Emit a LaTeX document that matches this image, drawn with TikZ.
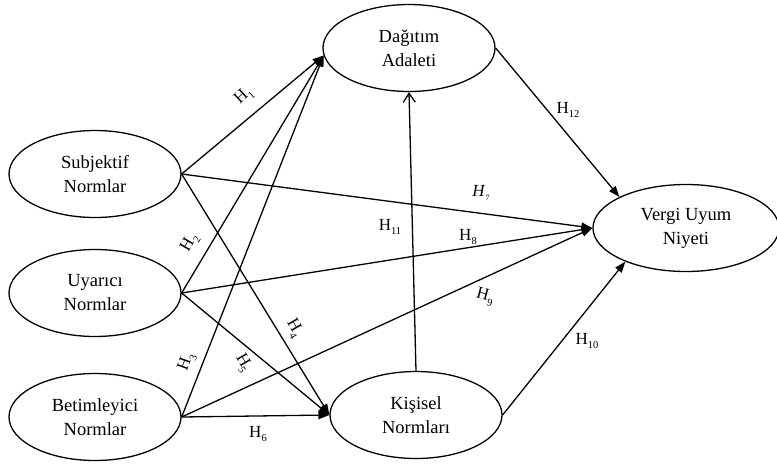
\documentclass[tikz,border=0pt]{standalone}
\usepackage{fontspec}
\setmainfont{Liberation Serif}
\usetikzlibrary{arrows.meta,shapes.geometric}

\newcommand{\hyp}[1]{H\raisebox{-0.6ex}{\fontsize{10.5}{10.5}\selectfont #1}}
\newcommand{\hypit}[1]{\textit{H}\raisebox{-0.6ex}{\fontsize{8}{8}\selectfont #1}}

\tikzset{
  construct/.style={draw,ellipse,line width=1.3pt,inner sep=0pt,
    minimum width=172pt,minimum height=87pt,align=center,
    font=\fontsize{18.5}{24}\selectfont},
  path/.style={line width=1.3pt,-{Triangle[length=11pt,width=8pt]}},
  openpath/.style={line width=1.3pt,-{Straight Barb[length=9pt,width=12pt]}},
  hlabel/.style={inner sep=0pt,font=\fontsize{17}{17}\selectfont}
}

\begin{document}
\begin{tikzpicture}[x=1pt,y=-1pt]

\useasboundingbox (0,0) rectangle (777,464);

% Constructs
\node[construct] (sub) at (95,174) {Subjektif\\Normlar};
\node[construct] (uya) at (95,293) {Uyarıcı\\Normlar};
\node[construct] (bet) at (95,417) {Betimleyici\\Normlar};
\node[construct] (dag) at (409,48) {Dağıtım\\Adaleti};
\node[construct] (kis) at (416,415) {Kişisel\\Normları};
\node[construct,minimum width=186pt] (ver) at (686,228) {Vergi Uyum\\Niyeti};

% Norms to distributive justice
\foreach \src in {sub,uya,bet}
    \draw[path] (\src.east) -- (dag.185);

% Norms to personal norms
\foreach \src in {sub,uya,bet}
    \draw[path] (\src.east) -- (kis.west);

% Norms to intention
\foreach \src in {sub,uya,bet}
    \draw[path] (\src.east) -- (ver.west);

% Remaining paths
\draw[path] (kis.east) -- (ver.209);
\draw[path] (dag.east) -- (ver.155);
\draw[openpath] (kis.north) -- (dag.south);

% Hypothesis labels
\node[hlabel,rotate=43] (h1) at (244,96) {\hyp{1}};
\node[hlabel,rotate=60] (h2) at (190,243) {\hyp{2}};
\node[hlabel,rotate=70] (h3) at (187,362) {\hyp{3}};
\node[hlabel,rotate=-60] (h4) at (294,328) {\hyp{4}};
\node[hlabel,rotate=-60] (h5) at (243,363) {\hyp{5}};
\node[hlabel] (h6) at (258,434) {\hyp{6}};
\node[hlabel] (h7) at (481,193) {\hypit{7}};
\node[hlabel] (h8) at (468,237) {\hyp{8}};
\node[hlabel,rotate=-15] (h9) at (485,297) {\hyp{9}};
\node[hlabel] (h10) at (587,341) {\hyp{10}};
\node[hlabel] (h11) at (390,227) {\hyp{11}};
\node[hlabel] (h12) at (568,110) {\hyp{12}};

\end{tikzpicture}
\end{document}
